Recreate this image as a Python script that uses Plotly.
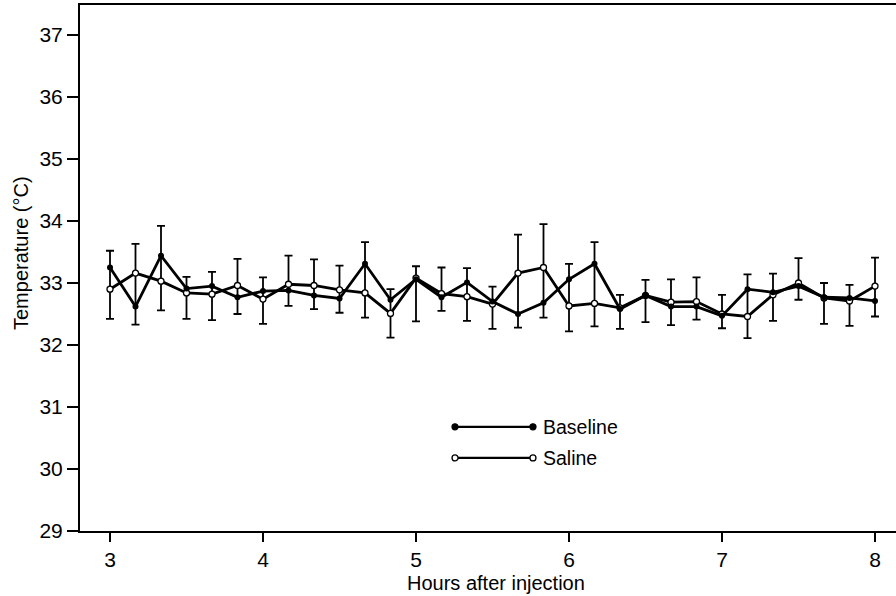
import plotly.graph_objects as go

# Time points (hours after injection), every 10 minutes from 3 to 8 h
hours = [3 + k / 6 for k in range(31)]

baseline = [33.25, 32.62, 33.44, 32.91, 32.95, 32.77, 32.87, 32.88, 32.80, 32.75,
            33.31, 32.73, 33.06, 32.77, 33.01, 32.70, 32.50, 32.68, 33.06, 33.31,
            32.58, 32.80, 32.62, 32.62, 32.47, 32.90, 32.85, 32.95, 32.77, 32.76,
            32.71]
saline = [32.90, 33.16, 33.03, 32.84, 32.82, 32.96, 32.74, 32.98, 32.96, 32.89,
          32.84, 32.51, 33.08, 32.83, 32.78, 32.66, 33.16, 33.25, 32.63, 32.67,
          32.60, 32.80, 32.69, 32.70, 32.50, 32.46, 32.81, 33.00, 32.76, 32.71,
          32.95]
# Error bar extents (upper cap / lower cap)
bar_top = [33.52, 33.63, 33.92, 33.10, 33.18, 33.39, 33.09, 33.44, 33.38, 33.28,
           33.66, 32.90, 33.27, 33.25, 33.24, 32.94, 33.78, 33.95, 33.31, 33.66,
           32.81, 33.05, 33.06, 33.09, 32.81, 33.14, 33.15, 33.40, 33.00, 32.97,
           33.41]
bar_bottom = [32.42, 32.33, 32.56, 32.42, 32.40, 32.50, 32.34, 32.63, 32.58, 32.52,
              32.44, 32.12, 32.38, 32.55, 32.39, 32.26, 32.28, 32.44, 32.22, 32.30,
              32.26, 32.37, 32.32, 32.41, 32.27, 32.11, 32.39, 32.73, 32.34, 32.31,
              32.46]

x_ticks = [3, 4, 5, 6, 7, 8]
y_ticks = [29, 30, 31, 32, 33, 34, 35, 36, 37]

mid = [(a + b) / 2 for a, b in zip(bar_top, bar_bottom)]
half = [(a - b) / 2 for a, b in zip(bar_top, bar_bottom)]

FONT = "Liberation Sans, Arial, sans-serif"

fig = go.Figure()
fig.add_trace(go.Scatter(
    x=hours, y=mid, mode="markers",
    marker=dict(size=1, color="rgba(0,0,0,0)"),
    error_y=dict(type="data", array=half, visible=True, color="black",
                 thickness=1.8, width=4),
    showlegend=False, hoverinfo="skip"))
fig.add_trace(go.Scatter(
    x=hours, y=saline, mode="lines+markers", name="Saline",
    line=dict(color="black", width=2.8),
    marker=dict(symbol="circle", size=6, color="white",
                line=dict(color="black", width=1.3)),
    showlegend=False))
fig.add_trace(go.Scatter(
    x=hours, y=baseline, mode="lines+markers", name="Baseline",
    line=dict(color="black", width=2.8),
    marker=dict(symbol="circle", size=6, color="black"),
    showlegend=False))

# Manual legend (paper coordinates)
shapes = []
annotations = []
for yp, label, fill in [(0.198, "Baseline", "black"), (0.139, "Saline", "white")]:
    x0, x1 = 0.4596, 0.5551
    shapes.append(dict(type="line", xref="paper", yref="paper", x0=x0, x1=x1,
                       y0=yp, y1=yp, line=dict(color="black", width=2.4)))
    for xc in (x0, x1):
        shapes.append(dict(type="circle", xref="paper", yref="paper",
                           xsizemode="pixel", ysizemode="pixel",
                           xanchor=xc, yanchor=yp, x0=-3, x1=3, y0=-3, y1=3,
                           fillcolor=fill, line=dict(color="black", width=1.3)))
    annotations.append(dict(xref="paper", yref="paper", x=0.565, y=yp,
                            text=label, showarrow=False, xanchor="left",
                            yanchor="middle",
                            font=dict(family=FONT, size=19.5, color="black")))

# Axis titles
annotations.append(dict(xref="paper", yref="paper", x=(496 - 80) / 816,
                        y=(531 - 583) / 526, text="Hours after injection",
                        showarrow=False, xanchor="center", yanchor="middle",
                        font=dict(family=FONT, size=20, color="black")))
annotations.append(dict(xref="paper", yref="paper", x=(21 - 80) / 816,
                        y=(531 - 253) / 526, text="Temperature (°C)",
                        textangle=-90, showarrow=False, xanchor="center",
                        yanchor="middle",
                        font=dict(family=FONT, size=20, color="black")))

fig.update_layout(
    width=896, height=596,
    margin=dict(l=80, r=0, t=5, b=65),
    paper_bgcolor="white", plot_bgcolor="white",
    shapes=shapes, annotations=annotations,
    font=dict(family=FONT, color="black"),
    xaxis=dict(range=[3 - 30 / 153, 3 + 786 / 153], tickvals=x_ticks,
               ticktext=[str(v) for v in x_ticks],
               showgrid=False, zeroline=False, showline=True, linecolor="black",
               linewidth=2, mirror=True, ticks="outside", ticklen=9,
               tickwidth=1.8, tickcolor="black",
               tickfont=dict(family=FONT, size=21, color="black")),
    yaxis=dict(range=[29, 37 + 30 / 62], tickvals=y_ticks,
               ticktext=[str(v) for v in y_ticks],
               showgrid=False, zeroline=False, showline=True, linecolor="black",
               linewidth=2, mirror=False, ticks="outside", ticklen=11,
               tickwidth=1.8, tickcolor="black",
               tickfont=dict(family=FONT, size=21, color="black")),
)

fig.write_html("out.html")
